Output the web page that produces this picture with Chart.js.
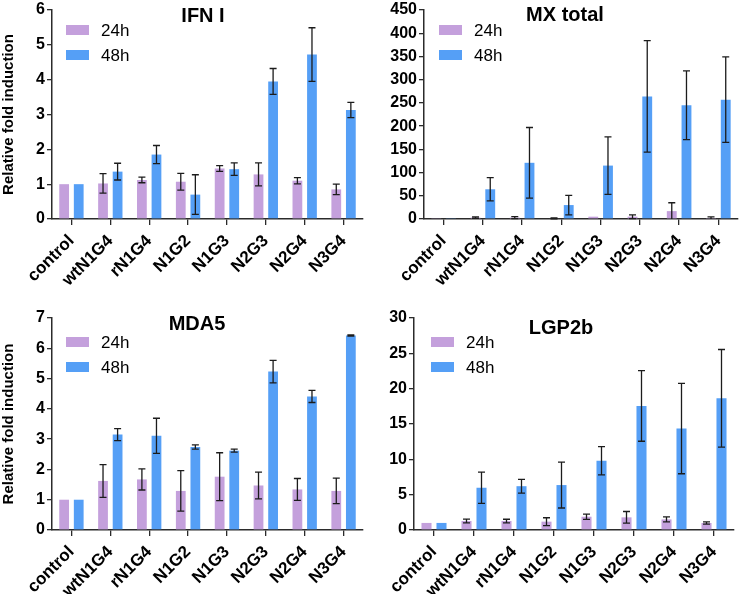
<!DOCTYPE html>
<html>
<head>
<meta charset="utf-8">
<script src="https://cdn.jsdelivr.net/npm/chart.js@4/dist/chart.umd.min.js"></script>
<style>
  body { margin: 0; background: #fff; }
  canvas { position: absolute; }
</style>
</head>
<body>
<canvas id="c1" width="371" height="297" style="left:0;top:0"></canvas>
<canvas id="c2" width="371" height="297" style="left:371px;top:0"></canvas>
<canvas id="c3" width="371" height="297" style="left:0;top:297px"></canvas>
<canvas id="c4" width="371" height="297" style="left:371px;top:297px"></canvas>
<script>
var categories = ['control', 'wtN1G4', 'rN1G4', 'N1G2', 'N1G3', 'N2G3', 'N2G4', 'N3G4'];

// IFN I
var ifn24 = [1.0, 1.02, 1.12, 1.07, 1.45, 1.28, 1.10, 0.85];
var ifn24Err = [0, 0.28, 0.08, 0.24, 0.08, 0.33, 0.09, 0.15];
var ifn48 = [1.0, 1.36, 1.85, 0.70, 1.43, 3.95, 4.72, 3.13];
var ifn48Err = [0, 0.24, 0.26, 0.57, 0.18, 0.37, 0.77, 0.22];

// MX total
var mx24 = [1, 3, 3, 1.5, 5, 5, 17, 2];
var mx24Err = [0, 1.5, 2, 1, 0, 4, 18, 2.5];
var mx48 = [1, 64, 121, 30, 115, 264, 245, 257];
var mx48Err = [0, 25, 76, 21, 62, 120, 74, 92];

// MDA5
var mda24 = [1.0, 1.62, 1.67, 1.29, 1.76, 1.47, 1.34, 1.29];
var mda24Err = [0, 0.54, 0.35, 0.67, 0.79, 0.44, 0.36, 0.42];
var mda48 = [1.0, 3.15, 3.11, 2.74, 2.62, 5.23, 4.41, 6.42];
var mda48Err = [0, 0.20, 0.58, 0.07, 0.05, 0.37, 0.20, 0.02];

// LGP2b
var lgp24 = [1.0, 1.27, 1.27, 1.18, 1.88, 1.79, 1.50, 0.99];
var lgp24Err = [0, 0.27, 0.25, 0.55, 0.38, 0.83, 0.35, 0.16];
var lgp48 = [1.0, 5.98, 6.20, 6.36, 9.80, 17.56, 14.36, 18.64];
var lgp48Err = [0, 2.2, 0.97, 3.25, 2.0, 5.0, 6.4, 6.9];

var FONT = 'Arial, "Liberation Sans", sans-serif';
var COL24 = '#c4a0dc';
var COL48 = '#559ff6';
var AXIS = '#2b2b2b';

// error bars, drawn from the y scale
var errorBars = {
  id: 'errorBars',
  afterDatasetsDraw: function (chart) {
    var ctx = chart.ctx, y = chart.scales.y;
    ctx.save();
    ctx.strokeStyle = '#1c1c1c';
    ctx.lineWidth = 1.3;
    chart.data.datasets.forEach(function (ds, i) {
      chart.getDatasetMeta(i).data.forEach(function (bar, j) {
        var e = ds.errors[j];
        if (!e) return;
        var v = ds.data[j];
        var top = y.getPixelForValue(v + e);
        var bot = y.getPixelForValue(Math.max(v - e, 0));
        var x = bar.x;
        ctx.beginPath();
        ctx.moveTo(x, top); ctx.lineTo(x, bot);
        ctx.moveTo(x - 3.5, top); ctx.lineTo(x + 3.5, top);
        if (v - e > 0) { ctx.moveTo(x - 3.5, bot); ctx.lineTo(x + 3.5, bot); }
        ctx.stroke();
      });
    });
    ctx.restore();
  }
};

// title and legend sit inside the plot area
function deco(title, tx, ty, lx, ly) {
  return {
    id: 'deco',
    afterDraw: function (chart) {
      var ctx = chart.ctx;
      ctx.save();
      ctx.fillStyle = '#000';
      ctx.font = 'bold 20px ' + FONT;
      ctx.textAlign = 'center';
      ctx.textBaseline = 'middle';
      ctx.fillText(title, tx, ty);
      ctx.font = '17px ' + FONT;
      ctx.textAlign = 'left';
      chart.data.datasets.forEach(function (ds, i) {
        var cy = ly + i * 25;
        ctx.fillStyle = ds.backgroundColor;
        ctx.fillRect(lx, cy - 5, 23, 10);
        ctx.fillStyle = '#000';
        ctx.fillText(ds.label, lx + 35, cy + 1);
      });
      ctx.restore();
    }
  };
}

function makeChart(id, cfg) {
  return new Chart(document.getElementById(id), {
    type: 'bar',
    data: {
      labels: categories,
      datasets: [
        { label: '24h', data: cfg.d24, errors: cfg.e24, backgroundColor: COL24 },
        { label: '48h', data: cfg.d48, errors: cfg.e48, backgroundColor: COL48 }
      ]
    },
    options: {
      responsive: false,
      animation: false,
      devicePixelRatio: 1,
      categoryPercentage: 0.75,
      barPercentage: 0.67,
      layout: { padding: { top: cfg.top, right: cfg.right, left: 0, bottom: 0 } },
      plugins: { legend: { display: false }, tooltip: { enabled: false } },
      scales: {
        x: {
          offset: true,
          grid: { offset: false, drawOnChartArea: false, drawTicks: true, tickLength: 6, color: AXIS, lineWidth: 1.3 },
          border: { color: AXIS, width: 1.5 },
          ticks: { autoSkip: false, minRotation: 45, maxRotation: 45, padding: 6,
                   color: '#000', font: { family: FONT, size: 17, weight: 'bold' } },
          afterFit: function (s) { s.height = cfg.xh; }
        },
        y: {
          min: 0, max: cfg.max,
          grid: { drawOnChartArea: false, drawTicks: true, tickLength: 5, color: AXIS, lineWidth: 1.3 },
          border: { color: AXIS, width: 1.5 },
          ticks: { stepSize: cfg.step, padding: 2, color: '#000',
                   font: { family: FONT, size: 16, weight: 'bold', lineHeight: 1 } },
          title: { display: cfg.ytitle, text: 'Relative fold induction', color: '#000', padding: 0,
                   font: { family: FONT, size: 15, weight: 'bold' } },
          afterFit: function (s) { s.width = cfg.yw; }
        }
      }
    },
    plugins: [errorBars, deco(cfg.title, cfg.tx, cfg.ty, cfg.lx, cfg.ly)]
  });
}

makeChart('c1', { title: 'IFN I', d24: ifn24, e24: ifn24Err, d48: ifn48, e48: ifn48Err,
  max: 6, step: 1, ytitle: true, yw: 52, top: 7, right: 8, xh: 78, tx: 203, ty: 16, lx: 66, ly: 30 });
makeChart('c2', { title: 'MX total', d24: mx24, e24: mx24Err, d48: mx48, e48: mx48Err,
  max: 450, step: 50, ytitle: false, yw: 53, top: 9, right: 4, xh: 78, tx: 194, ty: 15, lx: 68, ly: 30 });
makeChart('c3', { title: 'MDA5', d24: mda24, e24: mda24Err, d48: mda48, e48: mda48Err,
  max: 7, step: 1, ytitle: true, yw: 52, top: 21, right: 8, xh: 64, tx: 197, ty: 27, lx: 66, ly: 45 });
makeChart('c4', { title: 'LGP2b', d24: lgp24, e24: lgp24Err, d48: lgp48, e48: lgp48Err,
  max: 30, step: 5, ytitle: false, yw: 43, top: 21, right: 8, xh: 64, tx: 190, ty: 31, lx: 60, ly: 45 });
</script>
</body>
</html>
